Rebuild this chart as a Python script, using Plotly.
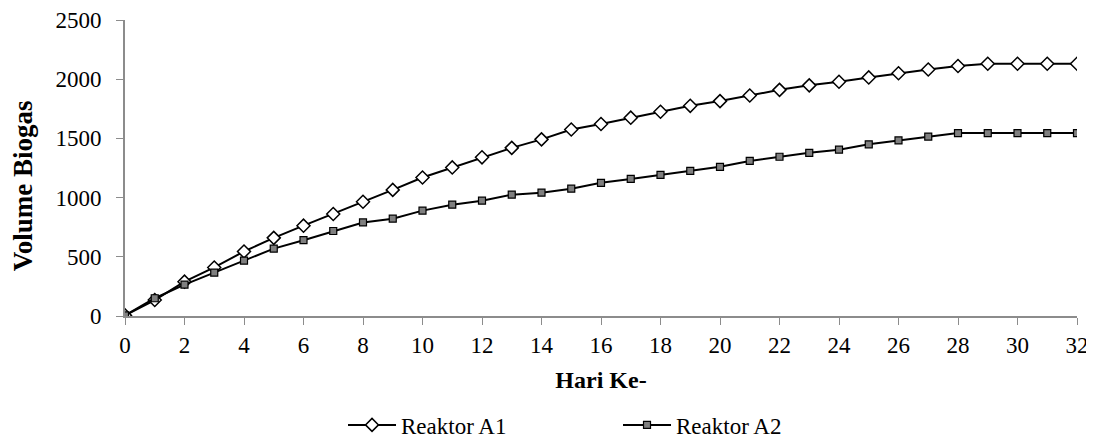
import plotly.graph_objects as go

days = list(range(0, 33))
reaktor_a1 = [5, 135, 290, 410, 545, 660, 763, 862, 965, 1065, 1170, 1255, 1340, 1420, 1492, 1575,
              1622, 1675, 1725, 1775, 1815, 1862, 1910, 1948, 1978, 2015, 2050, 2082, 2112, 2130,
              2130, 2130, 2130]
reaktor_a2 = [5, 150, 265, 366, 467, 569, 640, 718, 790, 822, 890, 940, 974, 1025, 1042, 1075,
              1125, 1158, 1192, 1226, 1260, 1310, 1345, 1378, 1405, 1450, 1483, 1515, 1545, 1545,
              1545, 1545, 1545]
x_ticks = list(range(0, 33, 2))
y_ticks = [0, 500, 1000, 1500, 2000, 2500]
x_title = "Hari Ke-"
y_title = "Volume Biogas"

font_family = "Times New Roman, Liberation Serif, serif"
tick_font = dict(family=font_family, size=23, color="black")

fig = go.Figure()
fig.add_trace(go.Scatter(
    x=days, y=reaktor_a1, name="Reaktor A1", mode="lines+markers",
    line=dict(color="black", width=2),
    marker=dict(symbol="diamond", size=10, color="white", line=dict(color="black", width=1.5)),
))
fig.add_trace(go.Scatter(
    x=days, y=reaktor_a2, name="Reaktor A2", mode="lines+markers",
    line=dict(color="black", width=2),
    marker=dict(symbol="square", size=7, color="#7f7f7f", line=dict(color="black", width=1.2)),
))

fig.update_layout(
    width=1094, height=438,
    margin=dict(l=117, r=25, t=12, b=130, autoexpand=False),
    paper_bgcolor="white", plot_bgcolor="white",
    font=dict(family=font_family, size=22, color="black"),
    showlegend=True,
    legend=dict(orientation="h", x=0.229, xanchor="left", y=-0.368, yanchor="middle",
                entrywidth=212, itemwidth=48,
                font=dict(family=font_family, size=23, color="black")),
    annotations=[dict(
        text="<b>" + y_title + "</b>", textangle=-90, xref="paper", yref="paper",
        x=-0.107, y=0.439, xanchor="center", yanchor="middle", showarrow=False,
        font=dict(family=font_family, size=27, color="black"),
    )],
)
fig.update_xaxes(
    range=[0, 32], tickvals=x_ticks, ticks="outside", ticklen=7, tickcolor="#8c8c8c",
    showline=True, linecolor="#8c8c8c", linewidth=2, showgrid=False, zeroline=False,
    tickfont=tick_font, ticklabelstandoff=0, automargin=False,
    title=dict(text="<b>" + x_title + "</b>", font=dict(family=font_family, size=24, color="black"),
               standoff=15),
)
fig.update_yaxes(
    range=[0, 2500], tickvals=y_ticks, ticks="outside", ticklen=7, tickcolor="#8c8c8c",
    showline=True, linecolor="#8c8c8c", linewidth=2, showgrid=False, zeroline=False,
    tickfont=tick_font, ticklabelstandoff=10, automargin=False,
)

fig.write_html("out.html")
